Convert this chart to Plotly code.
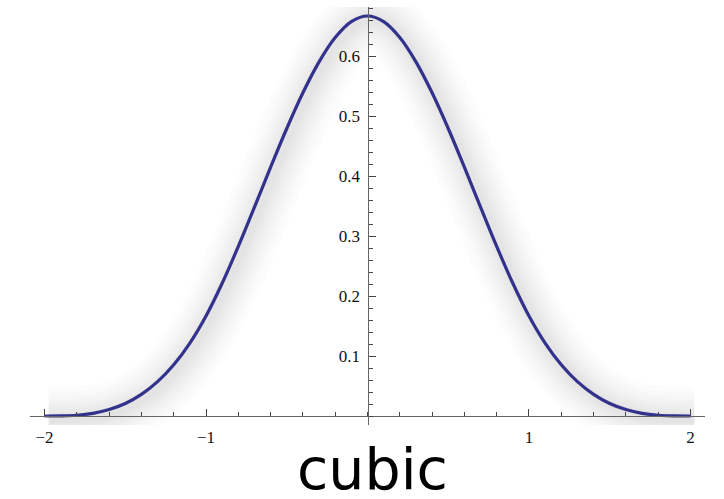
import plotly.graph_objects as go

# values
x_vals = [-2.0, -1.9, -1.8, -1.7, -1.6, -1.5, -1.4, -1.3, -1.2, -1.1, -1.0,
          -0.9, -0.8, -0.7, -0.6, -0.5, -0.4, -0.3, -0.2, -0.1, 0.0,
          0.1, 0.2, 0.3, 0.4, 0.5, 0.6, 0.7, 0.8, 0.9, 1.0,
          1.1, 1.2, 1.3, 1.4, 1.5, 1.6, 1.7, 1.8, 1.9, 2.0]
y_vals = [0.000, 0.0002, 0.0013, 0.0045, 0.0107, 0.0208, 0.036, 0.0572, 0.0853, 0.1215, 0.1667,
          0.2212, 0.2827, 0.3482, 0.4147, 0.4792, 0.5387, 0.5902, 0.6307, 0.6572, 0.6667,
          0.6572, 0.6307, 0.5902, 0.5387, 0.4792, 0.4147, 0.3482, 0.2827, 0.2212, 0.1667,
          0.1215, 0.0853, 0.0572, 0.036, 0.0208, 0.0107, 0.0045, 0.0013, 0.0002, 0.000]
x_ticks = [-2, -1, 1, 2]
y_ticks = [0.1, 0.2, 0.3, 0.4, 0.5, 0.6]
title_text = "cubic"

XR = [-2.09, 2.09]
YR = [-0.015, 0.6817]
# shadow offset (in data units ~ 4 px right, 3 px down)
dx = 4 / 161.5
dy = 3 / 600.0

fig = go.Figure()
# soft shadow drawn on a slightly shifted overlay axis
for w in [64, 54, 46, 38, 31, 25, 19, 14, 9]:
    fig.add_trace(go.Scatter(x=x_vals, y=y_vals, mode="lines", xaxis="x2", yaxis="y2",
                             line=dict(color="rgba(0,0,0,0.011)", width=w, shape="spline"),
                             hoverinfo="skip", showlegend=False))
fig.add_trace(go.Scatter(x=x_vals, y=y_vals, mode="lines",
                         line=dict(color="#3b3b9e", width=3.2, shape="spline"),
                         showlegend=False))

fig.update_layout(
    width=724, height=499,
    margin=dict(l=30, r=19, t=7, b=74),
    paper_bgcolor="white", plot_bgcolor="rgba(0,0,0,0)",
    font=dict(family="Liberation Serif, Times New Roman, serif", size=17, color="#111"),
    xaxis=dict(range=XR, anchor="free", position=(0 - YR[0]) / (YR[1] - YR[0]),
               showgrid=False, zeroline=False, showline=True, linecolor="#666", linewidth=1,
               tickmode="array", tickvals=x_ticks, ticks="inside", ticklen=7, tickcolor="#444",
               tickwidth=1,
               minor=dict(tickmode="array", tickvals=[round(-2 + 0.2 * i, 2) for i in range(21)],
                          ticks="inside", ticklen=4, tickcolor="#444", showgrid=False),
               ticklabelstandoff=6),
    yaxis=dict(range=YR, anchor="free", position=(0 - XR[0]) / (XR[1] - XR[0]),
               showgrid=False, zeroline=False, showline=True, linecolor="#666", linewidth=1,
               tickmode="array", tickvals=y_ticks, ticktext=[str(v) for v in y_ticks],
               ticks="inside", ticklen=7, tickcolor="#444", tickwidth=1,
               minor=dict(tickmode="array", tickvals=[round(0.02 * i, 2) for i in range(35)],
                          ticks="inside", ticklen=4, tickcolor="#444", showgrid=False),
               ticklabelstandoff=4),
    xaxis2=dict(range=[XR[0] - dx, XR[1] - dx], overlaying="x", visible=False),
    yaxis2=dict(range=[YR[0] + dy, YR[1] + dy], overlaying="y", visible=False),
    annotations=[dict(text=title_text, x=0.5, xref="paper", y=0, yref="paper",
                      xanchor="center", yanchor="top", yshift=-9, xshift=5, showarrow=False,
                      font=dict(family="DejaVu Sans, sans-serif", size=57, color="black"))],
)

fig.write_html("out.html", config={"displayModeBar": False},
               post_script="document.body.style.margin='0';")
